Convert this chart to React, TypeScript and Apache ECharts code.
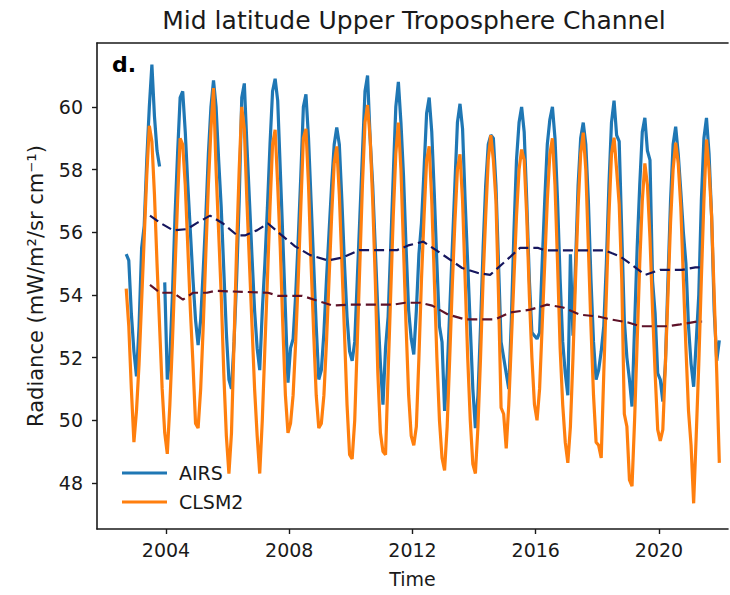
import React, { useEffect, useRef } from "react";
import * as echarts from "echarts";

// ---------- data ----------
const YEARS = [2002, 2003, 2004, 2005, 2006, 2007, 2008, 2009, 2010, 2011, 2012, 2013, 2014, 2015, 2016, 2017, 2018, 2019, 2020, 2021];
const FIRST_MONTH = 9; // first row (2002) starts in September

// AIRS monthly radiance, one row per year (Jan..Dec), null = missing
const airsMonthly: (number | null)[][] = [
  [55.3, 55.1, 53.4, 52.2],
  [51.4, 53.0, 55.5, 56.2, 58.3, 60.0, 61.35, 59.7, 58.6, 58.1, null, 54.4],
  [51.3, 52.0, 54.0, 56.5, 58.5, 60.3, 60.5, 59.2, 57.5, 56.0, 54.5, 53.2],
  [52.4, 53.2, 54.8, 56.5, 58.5, 60.0, 60.85, 60.0, 58.3, 56.8, 54.8, 52.8],
  [51.3, 51.0, 52.5, 54.5, 57.0, 60.3, 60.75, 58.8, 57.0, 55.2, 53.5, 52.3],
  [51.6, 53.5, 55.0, 56.8, 58.8, 60.5, 60.9, 60.2, 58.0, 55.8, 53.5, 51.2],
  [52.3, 52.6, 54.0, 55.8, 57.8, 60.0, 60.4, 59.0, 57.0, 55.0, 53.0, 51.3],
  [51.6, 52.8, 54.5, 56.0, 57.5, 58.8, 59.34, 58.8, 57.0, 55.0, 53.3, 52.2],
  [51.9, 52.5, 54.5, 56.5, 58.5, 60.5, 61.0, 59.0, 57.5, 55.5, 53.5, 51.8],
  [50.5, 52.3, 53.3, 55.5, 57.8, 60.0, 60.8, 59.5, 57.8, 55.5, 53.5, 52.6],
  [52.1, 53.5, 55.3, 56.3, 58.0, 59.8, 60.3, 59.2, 57.2, 55.0, 53.0, 52.5],
  [50.3, 51.5, 53.5, 55.5, 57.5, 59.5, 60.1, 59.3, 57.0, 55.0, 53.0, 51.0],
  [49.75, 50.8, 53.0, 55.5, 57.5, 58.8, 59.1, 59.0, 57.5, 55.0, 52.5, 52.0],
  [51.5, 51.0, 53.2, 56.0, 58.3, 59.5, 60.0, 59.2, 57.0, 54.5, 52.8, 52.7],
  [52.6, 52.8, 55.0, 57.0, 58.8, 59.6, 60.0, 59.0, 57.0, 54.5, 52.5, 51.5],
  [50.8, 55.3, 52.7, 55.0, 57.5, 59.0, 59.5, 58.8, 57.0, 54.5, 52.5, 51.3],
  [51.6, 52.2, 53.0, 55.0, 57.5, 59.5, 60.2, 59.1, 58.9, 56.0, 53.2, 52.0],
  [51.3, 50.44, 53.0, 55.5, 57.5, 59.2, 59.65, 58.6, 58.3, 54.45, 53.4, 51.5],
  [51.3, 50.6, 51.8, 54.5, 57.0, 58.8, 59.37, 58.5, 57.3, 56.0, 55.0, 53.0],
  [51.8, 51.07, 52.5, 54.0, 57.0, 59.0, 59.65, 58.5, 56.5, 53.5, 51.9, 52.55],
];

// CLSM2 monthly radiance, one row per year (Jan..Dec)
const clsmMonthly: (number | null)[][] = [
  [54.2, 53.0, 51.0, 49.3],
  [50.3, 51.8, 53.8, 55.8, 57.8, 59.4, 58.9, 57.2, 55.0, 53.0, 51.0, 49.6],
  [48.93, 50.5, 52.5, 54.8, 57.0, 59.0, 58.8, 57.5, 55.5, 53.5, 51.8, 49.9],
  [49.75, 51.0, 53.0, 55.3, 57.5, 59.3, 60.6, 58.0, 56.0, 54.0, 51.5, 49.5],
  [48.3, 49.6, 52.5, 55.5, 58.0, 60.0, 59.3, 57.0, 55.0, 53.0, 51.0, 49.5],
  [48.3, 50.0, 52.3, 54.5, 56.8, 58.8, 59.27, 57.5, 55.5, 53.0, 50.8, 49.6],
  [49.9, 50.8, 52.5, 54.5, 56.8, 59.0, 59.3, 57.5, 55.0, 52.8, 50.8, 49.75],
  [49.9, 50.8, 52.5, 54.5, 56.5, 58.2, 58.74, 57.2, 55.0, 52.8, 50.5, 48.9],
  [48.77, 50.0, 52.5, 55.0, 57.5, 59.5, 60.06, 59.0, 57.0, 54.5, 51.5, 49.6],
  [49.0, 48.9, 51.5, 54.0, 56.5, 58.5, 59.5, 58.0, 55.5, 53.0, 50.8, 49.5],
  [49.2, 49.8, 52.0, 54.5, 56.5, 58.3, 58.74, 57.0, 54.5, 52.0, 50.0, 48.8],
  [48.4, 49.8, 52.0, 54.3, 56.3, 58.0, 58.49, 57.0, 54.5, 52.0, 50.0, 48.6],
  [48.3, 49.8, 52.0, 54.5, 56.5, 58.3, 59.1, 58.3, 57.0, 54.0, 50.4, 50.2],
  [49.1, 50.5, 52.5, 54.5, 56.5, 58.0, 58.64, 58.3, 56.5, 54.0, 52.0, 50.5],
  [50.0, 51.0, 53.0, 55.0, 57.0, 58.5, 59.0, 57.5, 55.0, 52.3, 50.5, 49.3],
  [48.64, 49.8, 52.0, 54.5, 56.8, 58.5, 59.18, 58.0, 55.5, 53.0, 50.8, 49.3],
  [49.2, 48.8, 51.5, 54.0, 56.5, 58.5, 59.02, 58.0, 56.9, 54.5, 50.2, 49.8],
  [48.1, 47.9, 50.0, 52.5, 55.0, 57.0, 58.2, 57.5, 55.8, 53.5, 51.5, 49.7],
  [49.34, 49.7, 51.8, 54.0, 56.3, 58.0, 58.86, 58.2, 56.8, 54.5, 52.3, 50.3],
  [49.2, 47.35, 49.5, 51.8, 54.5, 57.0, 58.96, 58.0, 56.5, 54.0, 51.5, 48.64],
];

// Running means (dashed lines): decimal year and value
const airsMeanTime = [2003.48, 2003.81, 2004.23, 2004.68, 2005.01, 2005.43, 2005.85, 2006.31, 2006.56, 2006.95, 2007.31, 2007.7, 2008.19, 2008.68, 2009.26, 2009.75, 2010.27, 2011.5, 2011.86, 2012.35, 2012.96, 2013.61, 2014.13, 2014.52, 2015.01, 2015.49, 2016.08, 2016.31, 2018.25, 2018.48, 2018.74, 2019.13, 2019.55, 2020.04, 2020.75, 2021.18, 2021.4];
const airsMeanValue = [56.53, 56.3, 56.06, 56.1, 56.3, 56.53, 56.28, 55.9, 55.9, 56.06, 56.28, 55.95, 55.55, 55.27, 55.1, 55.2, 55.43, 55.43, 55.58, 55.7, 55.3, 54.86, 54.7, 54.64, 55.07, 55.5, 55.5, 55.42, 55.42, 55.33, 55.23, 54.95, 54.64, 54.8, 54.8, 54.88, 54.88];
const clsmMeanTime = [2003.48, 2003.81, 2004.23, 2004.55, 2004.88, 2005.33, 2005.59, 2007.31, 2007.64, 2008.42, 2008.9, 2009.42, 2009.97, 2011.37, 2011.76, 2012.25, 2012.64, 2013.16, 2013.71, 2014.68, 2015.17, 2015.82, 2016.37, 2016.89, 2017.44, 2018.03, 2018.42, 2019.0, 2019.39, 2020.3, 2020.69, 2021.24, 2021.4];
const clsmMeanValue = [54.32, 54.07, 54.07, 53.85, 54.07, 54.07, 54.13, 54.07, 53.97, 53.97, 53.82, 53.66, 53.69, 53.69, 53.75, 53.75, 53.66, 53.37, 53.22, 53.22, 53.44, 53.53, 53.69, 53.6, 53.37, 53.31, 53.22, 53.12, 53.0, 53.0, 53.06, 53.15, 53.15];

const xTicks = [2004, 2008, 2012, 2016, 2020];
const yTicks = [48, 50, 52, 54, 56, 58, 60];

const TITLE = "Mid latitude Upper Troposphere Channel";
const Y_NAME = "Radiance (mW/m²/sr cm⁻¹)";
const X_NAME = "Time";

// ---------- helpers ----------
function monthlyPairs(rows: (number | null)[][]) {
  const out: any[] = [];
  rows.forEach((row, r) => {
    const year = YEARS[r];
    const m0 = r === 0 ? FIRST_MONTH : 1;
    row.forEach((v, k) => {
      const t = year + (m0 + k - 0.5) / 12;
      out.push([t, v === null ? "-" : v]);
    });
  });
  return out;
}
function pairs(ts: number[], vs: number[]) {
  return ts.map((t, i) => [t, vs[i]]);
}

const FONT = "DejaVu Sans";
const INK = "#1a1a1a";

export default function App() {
  const ref = useRef<HTMLDivElement>(null);
  useEffect(() => {
    if (!ref.current) return;
    const chart = echarts.init(ref.current, undefined, { renderer: "svg" });
    const xMin = 2001.76, xMax = 2022.24;
    const yMin = 46.53, yMax = 62.04;
    chart.setOption({
      animation: false,
      backgroundColor: "#ffffff",
      textStyle: { fontFamily: FONT },
      grid: { left: 97, right: 2, top: 43, bottom: 66, show: false },
      graphic: [
        {
          type: "text",
          x: 414,
          y: 20,
          style: { text: TITLE, align: "center", verticalAlign: "middle", font: `25px '${FONT}'`, fill: INK },
        },
        {
          type: "text",
          x: 112,
          y: 64,
          style: { text: "d.", align: "left", verticalAlign: "middle", font: `bold 22px '${FONT}'`, fill: "#000" },
        },
      ],
      legend: {
        data: ["AIRS", "CLSM2"],
        orient: "vertical",
        left: 117,
        top: 458,
        icon: "rect",
        itemWidth: 45,
        itemHeight: 3,
        itemGap: 9,
        textStyle: { fontFamily: FONT, fontSize: 19, color: INK, lineHeight: 20, padding: [0, 0, 0, 7] },
      },
      xAxis: [
        {
          type: "value",
          min: xMin,
          max: xMax,
          name: X_NAME,
          nameLocation: "middle",
          nameGap: 40,
          nameTextStyle: { fontFamily: FONT, fontSize: 19, color: INK },
          axisLine: { show: true, lineStyle: { color: INK, width: 1.6 } },
          axisTick: { show: true, length: 5, lineStyle: { color: INK, width: 1.4 }, customValues: xTicks },
          axisLabel: { fontFamily: FONT, fontSize: 19, color: INK, margin: 11, customValues: xTicks, formatter: (v: number) => String(Math.round(v)) },
          splitLine: { show: false },
        },
        {
          type: "value",
          position: "top",
          min: xMin,
          max: xMax,
          axisLine: { show: true, onZero: false, lineStyle: { color: INK, width: 1.6 } },
          axisTick: { show: false },
          axisLabel: { show: false },
          splitLine: { show: false },
        },
      ],
      yAxis: {
        type: "value",
        min: yMin,
        max: yMax,
        name: Y_NAME,
        nameLocation: "middle",
        nameRotate: 90,
        nameGap: 51,
        nameTextStyle: { fontFamily: FONT, fontSize: 21, color: INK },
        axisLine: { show: true, onZero: false, lineStyle: { color: INK, width: 1.6 } },
        axisTick: { show: true, length: 5, lineStyle: { color: INK, width: 1.4 }, customValues: yTicks },
        axisLabel: { fontFamily: FONT, fontSize: 19, color: INK, margin: 14, customValues: yTicks, formatter: (v: number) => String(Math.round(v)) },
        splitLine: { show: false },
      },
      series: [
        {
          name: "AIRS",
          type: "line",
          data: monthlyPairs(airsMonthly),
          showSymbol: false,
          symbol: "none",
          connectNulls: false,
          lineStyle: { color: "#1f77b4", width: 3.2 },
          itemStyle: { color: "#1f77b4" },
          z: 2,
        },
        {
          name: "CLSM2",
          type: "line",
          data: monthlyPairs(clsmMonthly),
          showSymbol: false,
          symbol: "none",
          lineStyle: { color: "#ff7f0e", width: 3.2 },
          itemStyle: { color: "#ff7f0e" },
          z: 3,
        },
        {
          name: "AIRS mean",
          type: "line",
          data: pairs(airsMeanTime, airsMeanValue),
          showSymbol: false,
          symbol: "none",
          lineStyle: { color: "#16165e", width: 2.2, type: [10, 5] },
          z: 4,
        },
        {
          name: "CLSM2 mean",
          type: "line",
          data: pairs(clsmMeanTime, clsmMeanValue),
          showSymbol: false,
          symbol: "none",
          lineStyle: { color: "#5e1228", width: 2.2, type: [10, 5] },
          z: 4,
        },
      ],
    });
    return () => chart.dispose();
  }, []);
  return <div ref={ref} style={{ position: "absolute", left: 0, top: 0, width: 730, height: 595 }} />;
}
